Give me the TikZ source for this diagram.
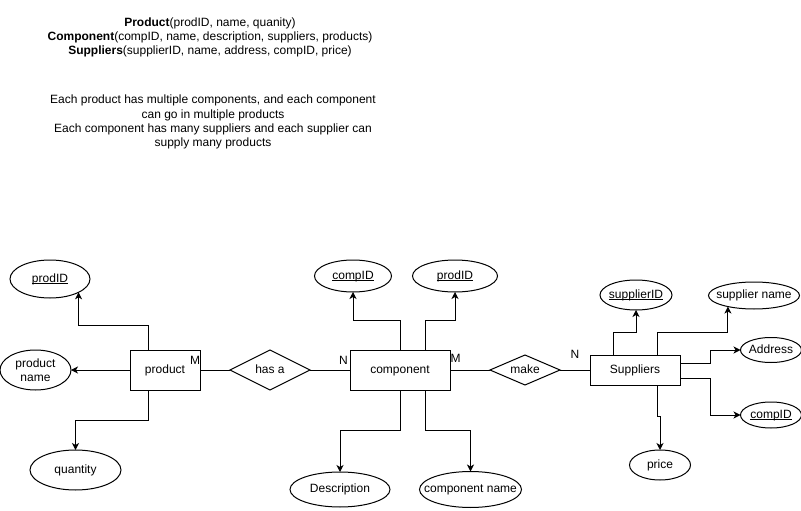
\documentclass[tikz,border=0pt]{standalone}
\usepackage{fontspec}
\setmainfont{Liberation Sans}
\usetikzlibrary{arrows.meta,shapes.geometric}
% zero-width text, so that a label never widens its shape
\newcommand{\zw}[1]{\makebox[0pt]{#1}}
% key attributes: a thin rule just under the baseline
\newcommand{\uln}[1]{\setbox0\hbox{#1}\makebox[0pt][l]{\rule[-1.8pt]{\wd0}{0.7pt}}\box0}

\begin{document}
\begin{tikzpicture}[x=1pt,y=-1pt,
  font=\fontsize{12}{14.2}\selectfont,
  line width=1pt,
  every node/.style={inner sep=0pt, outer sep=0pt},
  oneline/.style={text height=8.6pt, text depth=2.6pt},
  entity/.style={draw, rectangle, fill=white, oneline},
  attrshape/.style={draw, ellipse, fill=white},
  attr/.style={attrshape, oneline},
  rel/.style={draw, diamond, fill=white, oneline},
  card/.style={oneline},
  note/.style={align=center},
  link/.style={draw},
  attrlink/.style={draw, -{Stealth[length=7pt,width=7pt,inset=2pt]}},
]
\useasboundingbox (0,0) rectangle (801,511);

% schema and notes
\node[note] (schema) at (210,37.5)
  {\textbf{Product}(prodID, name, quanity)\\
   \textbf{Component}(compID, name, description, suppliers, products)\\
   \textbf{Suppliers}(supplierID, name, address, compID, price)};
\node[note] (rules) at (213,122)
  {Each product has multiple components, and each component\\
   can go in multiple products\\
   Each component has many suppliers and each supplier can\\
   supply many products};

% entities
\node[entity, minimum width=70pt,  minimum height=40pt] (prod) at (165,370) {product};
\node[entity, minimum width=100pt, minimum height=40pt] (comp) at (400,370) {component};
\node[entity, minimum width=90pt,  minimum height=30pt] (sup)  at (635,370) {Suppliers};

% relationships
\node[rel, minimum width=80pt, minimum height=40pt] (hasa) at (270,370) {\zw{has a}};
\node[rel, minimum width=70pt, minimum height=30pt] (make) at (525,370) {\zw{make}};

% attributes of product
\node[attr, minimum width=80pt, minimum height=38pt] (pidA)  at (50,279)   {\zw{\uln{prodID}}};
\node[attrshape, minimum width=71pt, minimum height=40pt, align=center] (pname) at (35.5,370) {product\\name};
\node[attr, minimum width=91pt, minimum height=40pt] (qty)   at (75.5,470) {\zw{quantity}};

% attributes of component
\node[attr, minimum width=77pt,  minimum height=32pt] (cid)   at (353,276)   {\zw{\uln{compID}}};
\node[attr, minimum width=85pt,  minimum height=32pt] (pidB)  at (455,276)   {\zw{\uln{prodID}}};
\node[attr, minimum width=100pt, minimum height=35pt] (desc)  at (340,489.5) {\zw{Description}};
\node[attr, minimum width=102pt, minimum height=36pt] (cname) at (470.5,489.5) {\zw{component name}};

% attributes of suppliers
\node[attr, minimum width=72pt, minimum height=30pt] (sid)   at (636,295)   {\zw{\uln{supplierID}}};
\node[attr, minimum width=91pt, minimum height=27pt] (sname) at (754,295.5) {\zw{supplier name}};
\node[attr, minimum width=61pt, minimum height=25pt] (addr)  at (771,350)   {\zw{Address}};
\node[attr, minimum width=61pt, minimum height=26pt] (cid2)  at (771,415)   {\zw{\uln{compID}}};
\node[attr, minimum width=61pt, minimum height=30pt] (price) at (660,465)   {\zw{price}};

% cardinalities
\node[card] (mA) at (195,361)     {M};
\node[card] (nA) at (343.5,361.5) {N};
\node[card] (mB) at (455.5,359.5) {M};
\node[card] (nB) at (575,355)     {N};

% relationship lines
\path[link] (prod.east) -- (hasa.west);
\path[link] (hasa.east) -- (comp.west);
\path[link] (comp.east) -- (make.west);
\path[link] (make.east) -- (sup.west);

% product attributes
\path[attrlink] ([xshift=-17pt]prod.north) -- ++(0,-25) -| (pidA.-25.86);
\path[attrlink] (prod.west) -- (pname.east);
\path[attrlink] ([xshift=-17pt]prod.south) -- ++(0,30) -| (qty.north);

% component attributes
\path[attrlink] (comp.north) -- ++(0,-30) -| (cid.south);
\path[attrlink] ([xshift=25pt]comp.north) -- ++(0,-30) -| (pidB.south);
\path[attrlink] (comp.south) -- ++(0,40) -| (desc.north);
\path[attrlink] ([xshift=25pt]comp.south) -- ++(0,40) -| (cname.north);

% supplier attributes
\path[attrlink] ([xshift=-22pt]sup.north) -- ++(0,-23) -| (sid.south);
\path[attrlink] ([xshift=22pt]sup.north) -- ++(0,-23) -| (sname.203.08);
\path[attrlink] ([yshift=7pt]sup.east) -- ++(30,0) |- (addr.west);
\path[attrlink] ([yshift=-8pt]sup.east) -- ++(30,0) |- (cid2.west);
\path[attrlink] ([xshift=22pt]sup.south) -- ++(0,31) -| (price.north);
\end{tikzpicture}
\end{document}
